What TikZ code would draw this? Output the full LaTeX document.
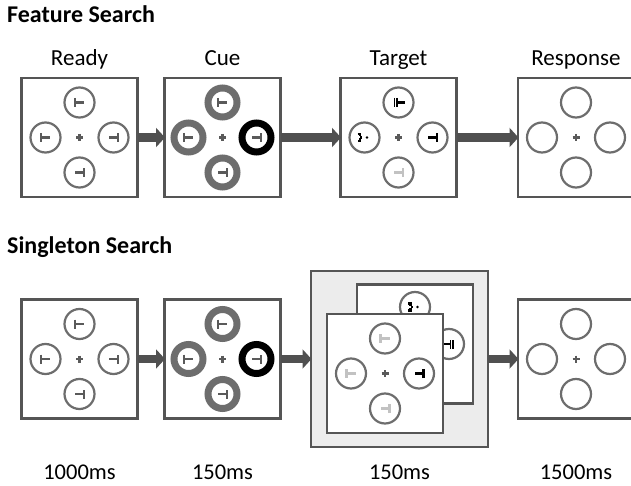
\documentclass[tikz,border=0pt]{standalone}
\usepackage{fontspec}
\setmainfont{Carlito}
\usetikzlibrary{arrows.meta,calc}
\definecolor{frameC}{HTML}{555555}
\definecolor{ringC}{HTML}{6D6D6D}
\definecolor{symC}{HTML}{5A5A5A}
\definecolor{lightC}{HTML}{C2C2C2}
\definecolor{arrowC}{HTML}{505050}
\definecolor{panelC}{HTML}{ECECEC}
\tikzset{
  frame/.style={draw=frameC, line width=2.5pt, fill=white, minimum width=116pt, minimum height=119pt, outer sep=0pt, inner sep=0pt},
  panel/.style={draw=frameC, line width=2.5pt, fill=panelC, minimum width=177pt, minimum height=176pt, outer sep=0pt, inner sep=0pt},
  bigarrow/.style={draw=arrowC, line width=8.5pt, -{Triangle[length=9pt,width=19pt]}, shorten >=-0.5pt},
  ring/.style={draw=ringC, line width=2.2pt},
  thickring/.style={draw=ringC, line width=7pt},
  blackring/.style={draw=black, line width=7pt},
  title/.style={font=\bfseries\fontsize{24}{28}\selectfont, anchor=base west, inner sep=0pt},
  lbl/.style={font=\fontsize{23}{26}\selectfont, anchor=base, inner sep=0pt},
  tlbl/.style={font=\fontsize{22.5}{26}\selectfont, anchor=base, inner sep=0pt},
  tee/.pic={\draw[line width=2.4pt] (-4.5,-4.5) -- (-4.5,4.5) (-4.5,0) -- (4.5,0);},
  dtee/.pic={\draw[line width=1.6pt] (-4,-4.5) -- (-4,4.5) (-1.6,-4.5) -- (-1.6,4.5); \draw[line width=2.2pt] (-1.6,0) -- (6,0);},
  brk/.pic={\draw[line width=2.2pt] (-7,-3.5) -- (-4.5,-3.5) -- (-4.5,-1) (-4.5,1) -- (-4.5,3.5) -- (-7,3.5) (-4.5,0) -- (-2.5,0); \fill (2.5,0) circle (1.4pt);},
  plussym/.pic={\draw[symC, line width=2.3pt] (-3.5,0) -- (3.5,0) (0,-3.5) -- (0,3.5);}
}
\newcommand{\fourRings}[2]{%
  \draw[#2] ($(#1)+(0,-35)$) circle (15);
  \draw[#2] ($(#1)+(-34,0)$) circle (15);
  \draw[#2] ($(#1)+(34,0)$) circle (15);
  \draw[#2] ($(#1)+(0,35)$) circle (15);
  \pic at (#1) {plussym};}
\begin{document}
\begin{tikzpicture}[x=1pt, y=-1pt]
\useasboundingbox (0,0) rectangle (631,486);
% titles
\node[title] (t1) at (7,23) {Feature Search};
\node[title] (t2) at (7,254) {Singleton Search};
% row labels
\node[lbl] (l1) at (79.5,66) {Ready};
\node[lbl] (l2) at (222.5,66) {Cue};
\node[lbl] (l3) at (398.5,66) {Target};
\node[lbl] (l4) at (576,66) {Response};
\node[tlbl] (m1) at (79.5,479) {1000ms};
\node[tlbl] (m2) at (222.5,479) {150ms};
\node[tlbl] (m3) at (399.5,479) {150ms};
\node[tlbl] (m4) at (576,479) {1500ms};
% ===== row 1 =====
\node[frame] (a1) at (79.5,137.5) {};
\node[frame] (a2) at (222.5,137.5) {};
\node[frame] (a3) at (398.5,137.5) {};
\node[frame] (a4) at (576,137.5) {};
% ready
\fourRings{a1.center}{ring}
\pic[symC] at ($(a1.center)+(0,-35)$) {tee};
\pic[symC] at ($(a1.center)+(-34,0)$) {tee};
\pic[symC, rotate=180] at ($(a1.center)+(34,0)$) {tee};
\pic[symC, rotate=180] at ($(a1.center)+(0,35)$) {tee};
% cue
\draw[thickring] ($(a2.center)+(0,-35)$) circle (14.5);
\draw[thickring] ($(a2.center)+(-34,0)$) circle (14.5);
\draw[blackring] ($(a2.center)+(34,0)$) circle (14.5);
\draw[thickring] ($(a2.center)+(0,35)$) circle (14.5);
\pic at (a2.center) {plussym};
\pic[symC] at ($(a2.center)+(0,-35)$) {tee};
\pic[symC] at ($(a2.center)+(-34,0)$) {tee};
\pic[symC, rotate=180] at ($(a2.center)+(34,0)$) {tee};
\pic[symC, rotate=180] at ($(a2.center)+(0,35)$) {tee};
% target
\fourRings{a3.center}{ring}
\pic[black] at ($(a3.center)+(0,-35)$) {dtee};
\pic[black] at ($(a3.center)+(-34,0)$) {brk};
\pic[black, rotate=180, line width=3pt] at ($(a3.center)+(34,0)$) {tee};
\pic[lightC, rotate=180] at ($(a3.center)+(0,35)$) {tee};
% response
\fourRings{a4.center}{ring}
% arrows row 1
\draw[bigarrow] (a1.east) -- (a2.west);
\draw[bigarrow] (a2.east) -- (a3.west);
\draw[bigarrow] (a3.east) -- (a4.west);
% ===== row 2 =====
\node[frame] (b1) at (79.5,359) {};
\node[frame] (b2) at (222.5,359) {};
\node[panel] (g) at (399.5,359) {};
\node[frame] (b4) at (576,359) {};
% ready
\fourRings{b1.center}{ring}
\pic[symC] at ($(b1.center)+(0,-35)$) {tee};
\pic[symC] at ($(b1.center)+(-34,0)$) {tee};
\pic[symC, rotate=180] at ($(b1.center)+(34,0)$) {tee};
\pic[symC, rotate=180] at ($(b1.center)+(0,35)$) {tee};
% cue
\draw[thickring] ($(b2.center)+(0,-35)$) circle (14.5);
\draw[thickring] ($(b2.center)+(-34,0)$) circle (14.5);
\draw[blackring] ($(b2.center)+(34,0)$) circle (14.5);
\draw[thickring] ($(b2.center)+(0,35)$) circle (14.5);
\pic at (b2.center) {plussym};
\pic[symC] at ($(b2.center)+(0,-35)$) {tee};
\pic[symC] at ($(b2.center)+(-34,0)$) {tee};
\pic[symC, rotate=180] at ($(b2.center)+(34,0)$) {tee};
\pic[symC, rotate=180] at ($(b2.center)+(0,35)$) {tee};
% stacked target frames
\node[frame] (bk) at (415,344) {};
\draw[ring] ($(bk.center)+(0,-37)$) circle (15);
\draw[ring] ($(bk.center)+(34,0)$) circle (15);
\pic[black] at ($(bk.center)+(0,-37)$) {brk};
\pic[black, rotate=180] at ($(bk.center)+(34,0)$) {dtee};
\node[frame] (fr) at (385,373.5) {};
\fourRings{fr.center}{ring}
\pic[lightC] at ($(fr.center)+(0,-35)$) {tee};
\pic[lightC] at ($(fr.center)+(-34,0)$) {tee};
\pic[black, rotate=180, line width=3pt] at ($(fr.center)+(34,0)$) {tee};
\pic[lightC, rotate=180] at ($(fr.center)+(0,35)$) {tee};
% response
\fourRings{b4.center}{ring}
% arrows row 2
\draw[bigarrow] (b1.east) -- (b2.west);
\draw[bigarrow] (b2.east) -- (g.west);
\draw[bigarrow] (g.east) -- (b4.west);
\end{tikzpicture}
\end{document}
